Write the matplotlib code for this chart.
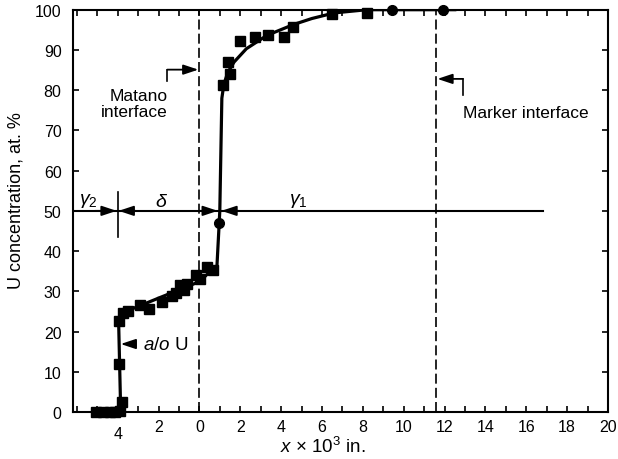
import matplotlib
matplotlib.use('Agg')
import matplotlib.pyplot as plt
import matplotlib.transforms as mtrans
from matplotlib.ticker import FixedLocator

plt.rcParams['font.family'] = ['Liberation Sans', 'DejaVu Sans']
plt.rcParams['mathtext.fontset'] = 'custom'
plt.rcParams['mathtext.rm'] = 'Liberation Sans'
plt.rcParams['mathtext.it'] = 'Liberation Sans:italic'
plt.rcParams['mathtext.bf'] = 'Liberation Sans:bold'

# ---- data (x in 10^-3 in., U concentration in at.%) ----
square_x = [-5.06, -4.72, -4.37, -4.13, -3.9, -3.8, -3.94, -3.94, -3.75, -3.5,
            -2.9, -2.45, -1.84, -1.35, -1.15, -0.95, -0.75, -0.6, -0.15, 0.03,
            0.35, 0.69,
            1.17, 1.5, 1.42, 1.99, 2.72, 3.38, 4.15, 4.6, 6.48, 8.19]
square_y = [0, 0, 0, 0, 0.3, 2.5, 12, 22.5, 24.5, 25.2,
            26.7, 25.6, 27.4, 28.8, 29.6, 31.6, 30.4, 31.8, 34, 33,
            36, 35.2,
            81.2, 84.1, 87, 92.1, 93.2, 93.8, 93.2, 95.7, 99.0, 99.2]
circle_x = [0.98, 9.42, 11.94]
circle_y = [47.0, 100.0, 100.0]

curve_x = [-5.2, -3.85, -3.95, -3.85, -3.5, -2.0, 0.0, 0.4, 0.85,
           0.95, 1.0, 1.1, 1.2, 1.4, 1.7, 2.3, 3.3, 4.6, 5.5, 6.6, 8.2, 12.5]
curve_y = [0, 0, 22, 24.5, 25.2, 28.3, 32.4, 34.3, 35.3,
           45, 50, 78, 81.5, 84.5, 87, 90.3, 93.6, 96.3, 97.8, 99.2, 100, 100]

matano_x = 0.0
marker_x = 11.6
phase_line_y = 50
phase_line_end = 16.84

xtick_vals = [-4, -2, 0, 2, 4, 6, 8, 10, 12, 14, 16, 18, 20]
xtick_labels = ['4', '2', '0', '2', '4', '6', '8', '10', '12', '14', '16', '18', '20']
ytick_vals = [0, 10, 20, 30, 40, 50, 60, 70, 80, 90, 100]

# ---- figure ----
fig = plt.figure(figsize=(6.18, 4.6), dpi=100)
ax = fig.add_axes([72.7 / 618, 47 / 460, (608 - 72.7) / 618, (413 - 10.7) / 460])
ax.set_xlim(-6.2, 20)
ax.set_ylim(0, 100)

for s in ax.spines.values():
    s.set_linewidth(1.5)

ax.set_xticks(xtick_vals)
ax.set_xticklabels(xtick_labels)
ax.xaxis.set_minor_locator(FixedLocator(list(range(-6, 21))))
ax.set_yticks(ytick_vals)
ax.tick_params(axis='both', which='both', direction='in', top=True, right=True,
               length=4, width=1.2, labelsize=11.5)
ax.tick_params(axis='x', pad=5)
ax.tick_params(axis='y', pad=8)
# left "4" label sits a bit lower in the original
lab = ax.get_xticklabels()[0]
lab.set_transform(lab.get_transform() + mtrans.ScaledTranslation(0, -5 / 72, fig.dpi_scale_trans))

# interfaces
ax.axvline(matano_x, color='k', lw=1.2, ls=(0, (6, 2.5)))
ax.axvline(marker_x, color='k', lw=1.2, ls=(0, (6, 2.5)))

# phase line at 50%
ax.plot([-6.2, phase_line_end], [phase_line_y, phase_line_y], color='k', lw=1.5)
ax.plot([-4.0, -4.0], [43.5, 54.7], color='k', lw=1.2)

# curve and data
ax.plot(curve_x, curve_y, color='k', lw=2.3, solid_joinstyle='round')
ax.plot(square_x, square_y, 's', color='k', ms=6.5, clip_on=False)
ax.plot(circle_x, circle_y, 'o', color='k', ms=7, clip_on=False)

ap = dict(arrowstyle='-|>,head_length=0.9,head_width=0.3', color='k', lw=1.3,
          shrinkA=0, shrinkB=0)

# arrows on the 50% line
ax.annotate('', xy=(-4.05, 50), xytext=(-5.1, 50), arrowprops=ap)
ax.annotate('', xy=(-3.95, 50), xytext=(-3.1, 50), arrowprops=ap)
ax.annotate('', xy=(0.9, 50), xytext=(0.0, 50), arrowprops=ap)
ax.annotate('', xy=(1.08, 50), xytext=(1.95, 50), arrowprops=ap)

ax.text(-5.45, 52.8, r'$\gamma_2$', ha='center', va='center', fontsize=14)
ax.text(-1.85, 52.3, r'$\delta$', ha='center', va='center', fontsize=14)
ax.text(4.83, 52.8, r'$\gamma_1$', ha='center', va='center', fontsize=14)

# Matano interface label
ax.plot([-1.57, -1.57], [82.4, 85.1], color='k', lw=1.2)
ax.annotate('', xy=(-0.05, 85.1), xytext=(-1.57, 85.1), arrowprops=ap)
ax.text(-1.57, 76.7, 'Matano\ninterface', ha='right', va='center',
        multialignment='right', fontsize=12.5, linespacing=1.15)

# Marker interface label
ax.plot([12.9, 12.9], [82.8, 78.7], color='k', lw=1.2)
ax.annotate('', xy=(11.65, 82.8), xytext=(12.9, 82.8), arrowprops=ap)
ax.text(12.9, 74.5, 'Marker interface', ha='left', va='center', fontsize=12.5)

# a/o U label
ax.annotate('', xy=(-3.85, 16.9), xytext=(-3.15, 16.9), arrowprops=ap)
ax.text(-2.75, 16.9, r'$a/o$ U', ha='left', va='center', fontsize=13.5)

fig.text(0.026, 0.563, 'U concentration, at. %', rotation=90, ha='center',
         va='center', fontsize=13)
fig.text(0.523, 0.029, r'$x$ × 10$^3$ in.', ha='center', va='center', fontsize=13.5)

fig.savefig('out.png', dpi=100)
